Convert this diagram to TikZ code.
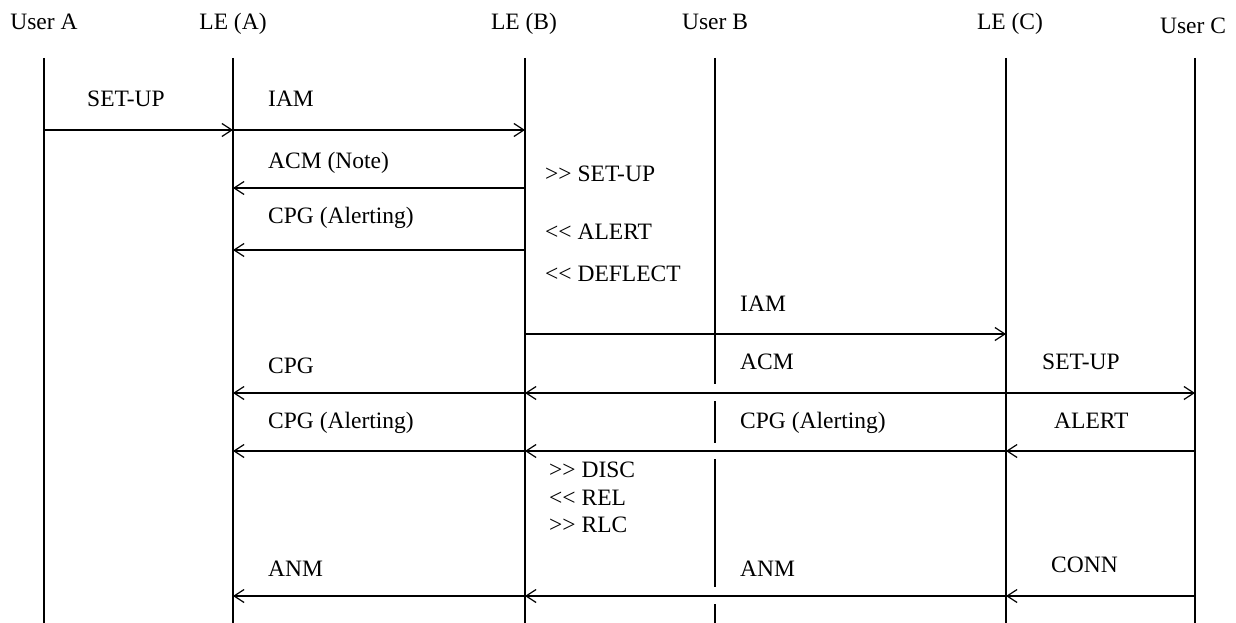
\documentclass[tikz,border=0pt]{standalone}
\usepackage{fontspec}
\setmainfont{Liberation Serif}
\usetikzlibrary{arrows.meta}
\begin{document}
\begin{tikzpicture}[x=1pt,y=-1pt,
  lifeline/.style={line width=1.6pt},
  msg/.style={line width=1.2pt,-{Straight Barb[length=10pt,width=13pt,line width=1.2pt]}},
  lbl/.style={inner sep=0pt,anchor=base west,font=\fontsize{23.5}{28}\selectfont},
  hdr/.style={inner sep=0pt,anchor=base,font=\fontsize{23.5}{28}\selectfont}]
\useasboundingbox (0,0) rectangle (1236,623);
% lifeline coordinates
\coordinate (UA) at (44,58);
\coordinate (LA) at (233,58);
\coordinate (LB) at (525,58);
\coordinate (UB) at (715,58);
\coordinate (LC) at (1006,58);
\coordinate (UC) at (1195,58);
\coordinate (bot) at (0,623);
% rows
\coordinate (r1) at (0,130);
\coordinate (r2) at (0,188);
\coordinate (r3) at (0,250);
\coordinate (r4) at (0,334);
\coordinate (r5) at (0,393);
\coordinate (r6) at (0,451);
\coordinate (r7) at (0,596);
% headers
\node[hdr] (hUA) at (44,30) {User A};
\node[hdr] (hLA) at (233,30) {LE (A)};
\node[hdr] (hLB) at (524,30) {LE (B)};
\node[hdr] (hUB) at (715,30) {User B};
\node[hdr] (hLC) at (1010,30) {LE (C)};
\node[hdr] (hUC) at (1193,34) {User C};
% lifelines
\draw[lifeline] (UA) -- (UA |- bot);
\draw[lifeline] (LA) -- (LA |- bot);
\draw[lifeline] (LB) -- (LB |- bot);
\draw[lifeline] (LC) -- (LC |- bot);
\draw[lifeline] (UC) -- (UC |- bot);
\coordinate (ub1) at (715,384);
\coordinate (ub2) at (715,401);
\coordinate (ub3) at (715,443);
\coordinate (ub4) at (715,459);
\coordinate (ub5) at (715,587);
\coordinate (ub6) at (715,604);
\draw[lifeline] (UB) -- (ub1);
\draw[lifeline] (ub2) -- (ub3);
\draw[lifeline] (ub4) -- (ub5);
\draw[lifeline] (ub6) -- (UB |- bot);
% messages
\draw[msg] (UA |- r1) -- (LA |- r1);
\draw[msg] (LA |- r1) -- (LB |- r1);
\draw[msg] (LB |- r2) -- (LA |- r2);
\draw[msg] (LB |- r3) -- (LA |- r3);
\draw[msg] (LB |- r4) -- (LC |- r4);
\draw[msg] (LB |- r5) -- (LA |- r5);
\draw[msg] (LC |- r5) -- (LB |- r5);
\draw[msg] (LC |- r5) -- (UC |- r5);
\draw[msg] (UC |- r6) -- (LC |- r6);
\draw[msg] (LC |- r6) -- (LB |- r6);
\draw[msg] (LB |- r6) -- (LA |- r6);
\draw[msg] (UC |- r7) -- (LC |- r7);
\draw[msg] (LC |- r7) -- (LB |- r7);
\draw[msg] (LB |- r7) -- (LA |- r7);
% labels
\node[lbl] (t1) at (87,107) {SET-UP};
\node[lbl] (t2) at (268,107) {IAM};
\node[lbl] (t3) at (268,168) {ACM (Note)};
\node[lbl] (t4) at (268,223) {CPG (Alerting)};
\node[lbl] (t5) at (545,181) {>{}> SET-UP};
\node[lbl] (t6) at (545,239) {<{}< ALERT};
\node[lbl] (t7) at (545,281) {<{}< DEFLECT};
\node[lbl] (t8) at (740,311) {IAM};
\node[lbl] (t9) at (268,373) {CPG};
\node[lbl] (t10) at (740,369) {ACM};
\node[lbl] (t11) at (1042,369) {SET-UP};
\node[lbl] (t12) at (268,428) {CPG (Alerting)};
\node[lbl] (t13) at (740,428) {CPG (Alerting)};
\node[lbl] (t14) at (1054,428) {ALERT};
\node[lbl] (t15) at (549,477) {>{}> DISC};
\node[lbl] (t16) at (549,505) {<{}< REL};
\node[lbl] (t17) at (549,532) {>{}> RLC};
\node[lbl] (t18) at (268,576) {ANM};
\node[lbl] (t19) at (740,576) {ANM};
\node[lbl] (t20) at (1051,572) {CONN};
\end{tikzpicture}
\end{document}
